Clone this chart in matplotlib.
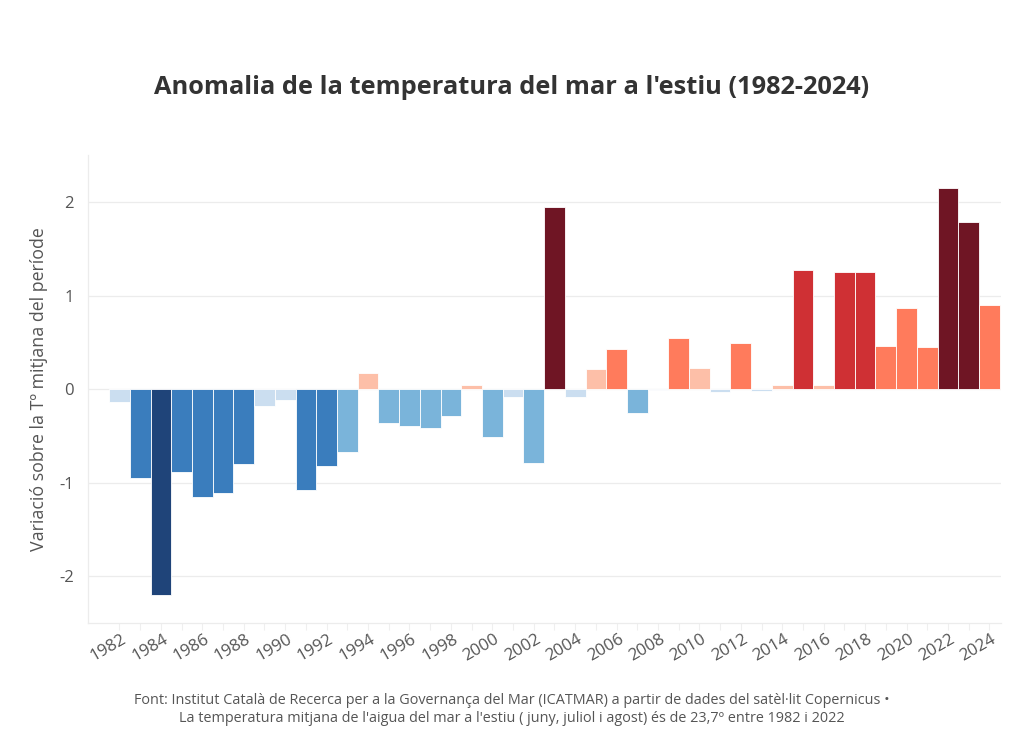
import matplotlib
matplotlib.use("Agg")
import matplotlib.pyplot as plt
from matplotlib.transforms import ScaledTranslation

years = list(range(1982, 2025))
anomaly = [-0.14, -0.95, -2.20, -0.89, -1.15, -1.11, -0.80, -0.18, -0.12, -1.08,
           -0.82, -0.67, 0.17, -0.36, -0.39, -0.41, -0.29, 0.04, -0.51, -0.08,
           -0.79, 1.95, -0.08, 0.22, 0.43, -0.25, -0.01, 0.55, 0.23, -0.03,
           0.49, -0.02, 0.04, 1.28, 0.05, 1.25, 1.25, 0.46, 0.87, 0.45,
           2.15, 1.79, 0.90]
bin_colors = ["#1f4479", "#3a7dbd", "#7ab4da", "#cbdef0", "#fdbfa8", "#ff7b5c", "#cf3034", "#6f1524"]
title = "Anomalia de la temperatura del mar a l'estiu (1982-2024)"
ylabel = "Variació sobre la Tº mitjana del període"
source = ("Font: Institut Català de Recerca per a la Governança del Mar (ICATMAR) a partir de dades del satèl·lit Copernicus •\n"
          "La temperatura mitjana de l'aigua del mar a l'estiu ( juny, juliol i agost) és de 23,7º entre 1982 i 2022")

def colour(v):
    if v < -1.5:
        return bin_colors[0]
    if v < -0.795:
        return bin_colors[1]
    if v <= -0.2:
        return bin_colors[2]
    if v < 0:
        return bin_colors[3]
    if v < 0.25:
        return bin_colors[4]
    if v < 1.0:
        return bin_colors[5]
    if v < 1.5:
        return bin_colors[6]
    return bin_colors[7]

plt.rcParams['font.family'] = ['Open Sans', 'DejaVu Sans']
fig = plt.figure(figsize=(10.24, 7.4), dpi=100, facecolor="white")
ax = fig.add_axes([88/1024, 1-623/740, (1001-88)/1024, (623-155)/740])
ax.bar(years, anomaly, width=1.0, color=[colour(v) for v in anomaly],
       edgecolor="white", linewidth=0.6, zorder=3)
ax.set_xlim(1980.48, 2024.56)
ax.set_ylim(-2.50, 2.505)
ax.set_yticks([-2, -1, 0, 1, 2])
ax.set_yticklabels(["-2", "-1", "0", "1", "2"])
ax.set_xticks(years, minor=True)
ax.set_xticks(years[::2])
ax.set_xticklabels([str(y) for y in years[::2]], rotation=30, ha="center")
ax.grid(axis="y", color="#ececec", linewidth=0.9, zorder=0)
for s in ("top", "right"):
    ax.spines[s].set_visible(False)
for s in ("left", "bottom"):
    ax.spines[s].set_color("#ececec")
    ax.spines[s].set_linewidth(0.9)
ax.tick_params(axis="y", length=0, labelsize=12, labelcolor="#555555", pad=10)
ax.tick_params(axis="x", which="both", length=5, color="#efefef", width=0.8)
ax.tick_params(axis="x", which="major", labelsize=12.2, labelcolor="#555555", pad=1)
shift = ScaledTranslation(-11/100, 0, fig.dpi_scale_trans)
for lab in ax.get_xticklabels():
    lab.set_transform(lab.get_transform() + shift)
ax.set_ylabel(ylabel, fontsize=12.8, color="#555555")
ax.yaxis.set_label_coords((48-88)/913, 0.5)
fig.text(512/1024, 1-87/740, title, ha="center", va="center", fontsize=18.3, fontweight="bold", color="#333333")
fig.text(512/1024, 1-709.5/740, source, ha="center", va="center", fontsize=10.4, color="#555555", linespacing=1.35)
fig.savefig("out.png", dpi=100)
